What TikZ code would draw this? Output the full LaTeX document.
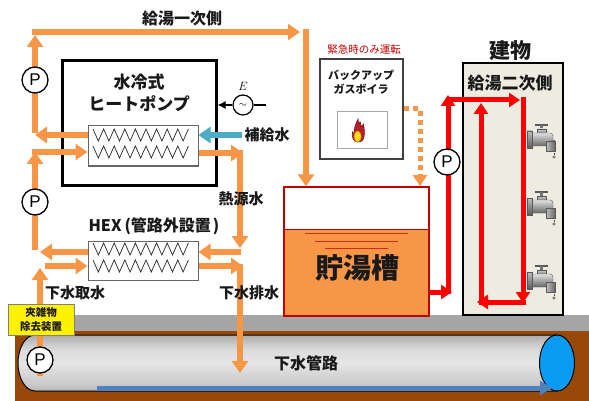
\documentclass[tikz,border=0pt]{standalone}
\usepackage{fontspec}
\setmainfont{Liberation Sans}
\newfontfamily\jp{Noto Sans CJK JP}
\usetikzlibrary{arrows.meta}

\definecolor{hot}{HTML}{F79646}
\definecolor{feed}{HTML}{4BACC6}
\definecolor{loopred}{HTML}{FF0000}
\definecolor{tankred}{HTML}{C00000}
\definecolor{beige}{HTML}{EEECE1}
\definecolor{soil}{HTML}{984807}
\definecolor{band}{HTML}{A6A6A6}
\definecolor{pipeend}{HTML}{0A9CF5}
\definecolor{flowblue}{HTML}{4F81BD}
\definecolor{flame}{HTML}{B3212B}
\definecolor{flamedark}{HTML}{7A1419}
\definecolor{flamecore}{HTML}{FFE11A}

% metallic look of the sewer main
\pgfdeclareverticalshading{sewermetal}{100bp}{%
  color(0bp)=(black!72); color(12bp)=(black!50); color(30bp)=(black!22);
  color(50bp)=(black!10); color(62bp)=(black!14); color(80bp)=(black!40);
  color(92bp)=(black!62); color(100bp)=(black!75)}

\tikzset{
  jp/.style={font=\jp\bfseries\fontsize{#1}{#1}\selectfont, inner sep=0pt, text=black!90},
  pipe/.style={draw=hot, line width=6pt, -{Triangle[width=16pt,length=12pt]}},
  feedline/.style={draw=feed, line width=6pt, -{Triangle[width=16pt,length=12pt]}},
  hotloop/.style={draw=loopred, line width=5pt, -{Triangle[width=14pt,length=11pt]}},
  pump/.style={circle, draw=black, line width=1.3pt, fill=white, minimum size=26pt,
    inner sep=0pt, font=\fontsize{17}{17}\selectfont},
  hxbox/.style={draw=black!60, line width=1pt, fill=white, minimum width=110pt, inner sep=0pt},
  zigzags/.pic={
    \draw[line width=.7pt, black!85] (0,0)
      foreach \i in {1,...,9} { -- ++(5.3,12) -- ++(5.3,-12) };
  },
  faucet/.pic={
    \draw[black!65, line width=1.6pt] (8,2) -- (21,2);
    \fill[black!55] (13,2) rectangle (16,7);
    \shade[top color=black!20, bottom color=black!55, draw=black!65, line width=.4pt]
      (10,6) rectangle (19,11);
    \shade[top color=black!12, bottom color=black!60, draw=black!65, line width=.4pt,
      rounded corners=3pt] (3,10) rectangle (26,23);
    \shade[left color=black!25, right color=black!60, draw=black!65, line width=.4pt]
      (19,18) rectangle (28,28);
    \shade[top color=black!25, bottom color=black!65, draw=black!65, line width=.4pt]
      (0,8) rectangle (5,25);
    \draw[black!70, line width=.5pt] (27,30) -- (27,32);
    \draw[black!70, fill=white, line width=.5pt] (27,34) circle (1.3);
  }
}

\begin{document}
\begin{tikzpicture}[x=1pt, y=-1pt]
\useasboundingbox (0,0) rectangle (589,401);
\fill[white] (0,0) rectangle (589,401);

% ground and sewer main
\fill[band] (15,315) rectangle (589,331);
\fill[soil] (15,331) rectangle (589,401);
\shade[shading=sewermetal, draw=black, line width=1pt]
  (557,335) -- (35,335) arc[start angle=270, end angle=90, x radius=17, y radius=28]
  -- (557,391) -- cycle;
\draw[line width=1pt, fill=pipeend] (557,363) ellipse [x radius=17.5, y radius=28];
\coordinate (flowA) at (97,388);
\coordinate (flowB) at (552,388);
\draw[draw=flowblue, line width=5pt, -{Triangle[width=14pt,length=12pt]}] (flowA) -- (flowB);
\node[jp=16] (sewer) at (306,363) {下水管路};

% storage tank
\fill[hot] (284,229) rectangle (429,316);
\draw[tankred, line width=1pt] (284,229) -- (429,229);
\draw[tankred!70!hot, line width=.8pt] (305,233) -- (408,233) (315,241) -- (398,241) (325,248) -- (388,248);
\node[draw=tankred, line width=1.5pt, minimum width=145pt, minimum height=129pt, inner sep=0pt] (tank) at (356.5,251.5) {};
\node[jp=28] (tanklabel) at (357,268) {貯湯槽};

% backup boiler
\node[font=\jp\fontsize{10.5}{10.5}\selectfont, text=tankred!80!red, inner sep=0pt] (emerg) at (364,49) {緊急時のみ運転};
\node[draw=black!75, line width=1.5pt, fill=white, minimum width=83pt, minimum height=100pt, inner sep=0pt] (boiler) at (361.5,109) {};
\node[jp=11] (boilerA) at (361,75) {バックアップ};
\node[jp=11] (boilerB) at (361,89) {ガスボイラ};
\node[draw=black!35, line width=1pt, minimum width=50pt, minimum height=37pt, inner sep=0pt] (flamebox) at (362,130.5) {};
\begin{scope}[shift={(358,131)}, xscale=.8]
  \fill[flame, draw=flamedark, line width=.6pt] (0,11) .. controls (-6,11) and (-8,6) .. (-7,1)
    -- (-5,3) .. controls (-5,-3) and (-3,-7) .. (0,-12) .. controls (0,-8) and (2,-7) .. (3,-9)
    -- (4,-4) .. controls (5,-5) and (6,-6) .. (7,-7) .. controls (8,-1) and (9,5) .. (6,9)
    .. controls (4,11) and (2,11) .. (0,11) -- cycle;
  \fill[flamecore, draw=orange, line width=.5pt] (-0.5,5.5) ellipse [x radius=4.5, y radius=5.5];
\end{scope}
\coordinate (bk1) at (420,109);
\coordinate (bk2) at (420,186);
\draw[draw=hot, line width=5pt, dash pattern=on 5pt off 4pt, -{Triangle[width=14pt,length=11pt]}]
  (boiler.east |- bk1) -- (bk1) -- (bk2);

% building
\node[draw=black, line width=2pt, fill=beige, minimum width=100pt, minimum height=252pt, inner sep=0pt] (bldg) at (513,189) {};
\node[jp=21] (bldglabel) at (510,51) {建物};
\node[jp=17] (secondary) at (510,83) {給湯二次側};
\pic at (527,123) {faucet};
\pic at (527,190) {faucet};
\pic at (527,264) {faucet};

% secondary hot water loop
\coordinate (r1) at (448,292);
\coordinate (r2) at (448,100);
\coordinate (r3) at (523,100);
\coordinate (r4) at (523,302);
\coordinate (r5) at (481,302);
\coordinate (r6) at (481,103);
\draw[hotloop] (tank.east |- r1) -- ([xshift=4pt]r1);
\draw[hotloop] ([yshift=-2pt]r1) -- ([yshift=5pt]r2);
\draw[hotloop] ([xshift=-2.5pt]r2) -- ([xshift=-3pt]r3);
\draw[hotloop] ([yshift=2.5pt]r3) -- ([yshift=-1pt]r4);
\draw[hotloop] ([xshift=2.5pt]r4) -- ([xshift=-4pt]r5);
\draw[hotloop] ([yshift=-2.5pt]r5) -- (r6);

% water-cooled heat pump
\node[draw=black, line width=3pt, minimum width=154pt, minimum height=124pt, inner sep=0pt] (hp) at (139,123) {};
\node[jp=17] (hpA1) at (139,82) {水冷式};
\node[jp=17] (hpA2) at (139,104) {ヒートポンプ};
\node[hxbox, minimum height=40pt] (hphx) at (143,146) {};
\pic at (93,129) {zigzags};
\pic at (93,146) {zigzags};

% external heat exchanger
\node[jp=16] (hexlabel) at (154,226) {HEX\hspace{3pt}(管路外設置\hspace{2pt})};
\node[hxbox, minimum height=39pt] (hex) at (143,260.5) {};
\pic at (93,243) {zigzags};
\pic at (93,260) {zigzags};

% power supply
\node[circle, draw, line width=1.2pt, minimum size=20pt, inner sep=0pt, fill=white] (src) at (243,105) {\fontsize{11}{11}\selectfont$\sim$};
\node[font=\fontsize{13}{13}\selectfont, inner sep=0pt] (srclabel) at (243,86) {$E$};
\draw[line width=1.2pt] (src.east) -- ++(12,0);
\draw[line width=1.5pt, -{Latex[length=8pt,width=8pt]}] (src.west) -- (hp.east |- src);

% exchanger ports
\path (hphx.west) ++(0,-11) coordinate (hpA) (hphx.west) ++(0,6) coordinate (hpB)
      (hphx.east) ++(0,-11) coordinate (hpC) (hphx.east) ++(0,7) coordinate (hpD);
\path (hex.west) ++(0,-8.5) coordinate (hexA) (hex.west) ++(0,5.5) coordinate (hexB)
      (hex.east) ++(0,-8.5) coordinate (hexC) (hex.east) ++(0,5.5) coordinate (hexD);

% primary pipe corners
\coordinate (c1) at (35,135);
\coordinate (c2) at (35,152);
\coordinate (c3) at (35,252);
\coordinate (c4) at (40,266);
\coordinate (c5) at (240,153);
\coordinate (c6) at (240,252);
\coordinate (c7) at (240,266);
\coordinate (s1) at (35,32);
\coordinate (s2) at (306,32);
\coordinate (intake) at (40,376);
\coordinate (drain) at (240,373);

% primary hot water supply
\draw[pipe] (hpA) -- (c1);
\draw[pipe] ([yshift=2pt]c1) -- ([yshift=-3pt]s1);
\draw[pipe] ([xshift=-3pt]s1) -- ([xshift=-6pt]s2);
\draw[pipe] ([yshift=3pt]s2) -- (tank.north -| s2);
% return through external exchanger
\draw[pipe] (hexA) -- ([xshift=5pt]c3);
\draw[pipe] ([yshift=2pt]c3) -- (c2);
\draw[pipe] ([xshift=-3pt]c2) -- (hpB);
% sewage intake and discharge
\draw[pipe] (intake) -- ([yshift=-2pt]c4);
\draw[pipe] ([xshift=5pt]c4) -- (hexB);
\draw[pipe] (hpD) -- ([xshift=3pt]c5);
\draw[pipe] ([yshift=3pt]c5) -- ([yshift=4pt]c6);
\draw[pipe] ([xshift=1pt]c6) -- (hexC);
\draw[pipe] (hexD) -- ([xshift=3pt]c7);
\draw[pipe] ([yshift=2pt]c7) -- (drain);

% make-up water
\node[jp=15] (feedlabel) at (267,135) {補給水};
\draw[feedline] ([xshift=-2pt]feedlabel.west) -- (hpC);

% screen unit
\node[draw=black!50, line width=1pt, fill=yellow, minimum width=66pt, minimum height=31pt, inner sep=0pt] (screen) at (41,319.5) {};
\node[jp=10.5] (screenA) at (41,312) {夾雑物};
\node[jp=10.5] (screenB) at (41,327) {除去装置};

% pumps
\node[pump] (p1) at (35,80) {P};
\node[pump] (p2) at (35,202) {P};
\node[pump] (p3) at (40,360) {P};
\node[pump] (p4) at (447,162) {P};

% labels
\node[jp=16] (primary) at (182,18) {給湯一次側};
\node[jp=15] (heatsrc) at (241,199) {熱源水};
\node[jp=15] (takein) at (75,293) {下水取水};
\node[jp=15] (drainlabel) at (249,293) {下水排水};
\end{tikzpicture}
\end{document}
